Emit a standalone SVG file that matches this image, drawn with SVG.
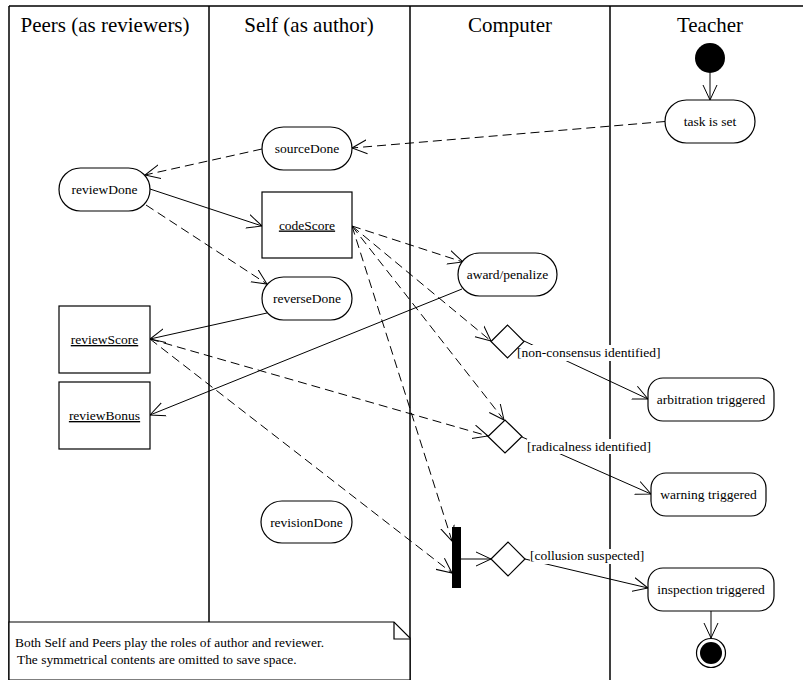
<svg xmlns="http://www.w3.org/2000/svg" width="803" height="680" viewBox="0 0 803 680" font-family="Liberation Serif, DejaVu Serif, serif">
<style>
text{font-family:"Liberation Serif","DejaVu Serif",serif;fill:#000}
.hd{font-size:21px;text-anchor:middle}
.nt{font-size:13.5px;text-anchor:middle}
.ul{text-decoration:underline}
.gd{font-size:13.5px}
.note{font-size:13.4px}
.lane{stroke:#000;stroke-width:1.5;fill:none}
.node{fill:#fff;stroke:#000;stroke-width:1.2}
.c{fill:none;stroke:#000;stroke-width:1;marker-end:url(#arr)}
.d{stroke-dasharray:9,5}
.bg{fill:#fff}
</style>
<defs>
<marker id="arr" markerUnits="userSpaceOnUse" viewBox="0 0 16 16" refX="15" refY="8" markerWidth="16" markerHeight="16" orient="auto">
<path d="M0,1 L15,8 L0,15" fill="none" stroke="#000" stroke-width="1" stroke-dasharray="none"/>
</marker>
</defs>
<g id="swimlanes">
<path class="lane" d="M9,6 H803 M9,6 V680 M209,6 V622 M410,6 V680 M610,6 V680"/>
<text class="hd" x="105" y="32">Peers (as reviewers)</text>
<text class="hd" x="309" y="32">Self (as author)</text>
<text class="hd" x="510" y="32">Computer</text>
<text class="hd" x="710" y="32">Teacher</text>
</g>
<g id="connectors">
<path class="c d" d="M665,121.5 L352,148"/>
<path class="c d" d="M262,149 L145,175"/>
<path class="c" d="M150,189 L262,226"/>
<path class="c d" d="M146,205 L267,284"/>
<path class="c" d="M267,313 L150,339"/>
<path class="c" d="M462,289 L150,415"/>
<path class="c d" d="M352,226 L463,262"/>
<path class="c d" d="M352,226 L491,341"/>
<path class="c d" d="M352,226 L504,420"/>
<path class="c d" d="M352,226 L452,541"/>
<path class="c d" d="M150,339 L488,436"/>
<path class="c d" d="M150,339 L452,573"/>
<path class="c" d="M524,341 L648,399"/>
<path class="c" d="M522,437 L651,494"/>
<path class="c" d="M525,559 L648,588"/>
<path class="c" d="M461,559 L491,559"/>
<path class="c" d="M710,73 L710,100"/>
<path class="c" d="M711,611 L711,638"/>
<rect class="bg" x="517" y="345" width="143" height="16"/>
<text class="gd" x="517" y="357">[non-consensus identified]</text>
<rect class="bg" x="527" y="439" width="123" height="15"/>
<text class="gd" x="527" y="451">[radicalness identified]</text>
<rect class="bg" x="530" y="549" width="116" height="15"/>
<text class="gd" x="530" y="560">[collusion suspected]</text>
</g>
<g id="initial"><circle cx="710" cy="58" r="15" fill="#000"/></g>
<g id="taskSet"><rect class="node" x="665" y="100" width="90" height="43" rx="21.5"/><text class="nt" x="710" y="126">task is set</text></g>
<g id="sourceDone"><rect class="node" x="262" y="127" width="90" height="43" rx="21.5"/><text class="nt" x="307" y="153">sourceDone</text></g>
<g id="reviewDone"><rect class="node" x="59" y="168" width="91" height="43" rx="21.5"/><text class="nt" x="104.5" y="194">reviewDone</text></g>
<g id="codeScore"><rect class="node" x="262" y="192" width="90" height="66"/><text class="nt ul" x="307" y="229.5">codeScore</text></g>
<g id="reverseDone"><rect class="node" x="262" y="277" width="90" height="43" rx="21.5"/><text class="nt" x="307" y="303">reverseDone</text></g>
<g id="reviewScore"><rect class="node" x="59" y="306" width="91" height="67"/><text class="nt ul" x="104.5" y="344">reviewScore</text></g>
<g id="reviewBonus"><rect class="node" x="59" y="382" width="91" height="67"/><text class="nt ul" x="104.5" y="420">reviewBonus</text></g>
<g id="awardPenalize"><rect class="node" x="458" y="253" width="99" height="43" rx="21.5"/><text class="nt" x="507.5" y="279">award/penalize</text></g>
<g id="revisionDone"><rect class="node" x="261" y="501" width="91" height="42" rx="21"/><text class="nt" x="306.5" y="526.5">revisionDone</text></g>
<g id="decision1"><path class="node" d="M491,341.5 L507.5,325 L524,341.5 L507.5,358 Z"/></g>
<g id="decision2"><path class="node" d="M488,436.5 L505,420 L522,436.5 L505,453 Z"/></g>
<g id="decision3"><path class="node" d="M491,559 L508,542 L525,559 L508,576 Z"/></g>
<g id="fork"><rect x="452" y="527" width="9" height="61" fill="#000"/></g>
<g id="arbitration"><rect class="node" x="648" y="378" width="126" height="43" rx="15"/><text class="nt" x="711" y="404">arbitration triggered</text></g>
<g id="warning"><rect class="node" x="651" y="473" width="115" height="43" rx="15"/><text class="nt" x="708.5" y="499">warning triggered</text></g>
<g id="inspection"><rect class="node" x="648" y="568" width="126" height="43" rx="15"/><text class="nt" x="711" y="594">inspection triggered</text></g>
<g id="final"><circle cx="711" cy="653" r="14.5" fill="#fff" stroke="#000" stroke-width="1.2"/><circle cx="711" cy="653" r="11" fill="#000"/></g>
<g id="note">
<path d="M9,622 H394 L410,638 V680 H9 Z" fill="#fff" stroke="#000" stroke-width="1.2"/>
<path d="M394,622 V639 H410" fill="none" stroke="#000" stroke-width="1.2"/>
<text class="note" x="15" y="647">Both Self and Peers play the roles of author and reviewer.</text>
<text class="note" x="17" y="664">The symmetrical contents are omitted to save space.</text>
</g>
</svg>
